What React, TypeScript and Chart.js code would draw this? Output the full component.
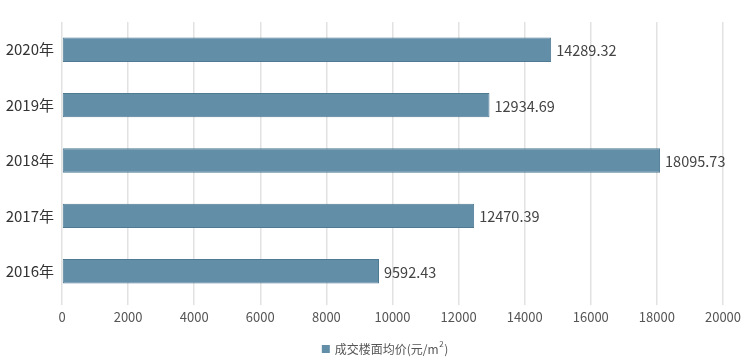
import React, { useEffect, useRef } from "react";
import { Chart, registerables } from "chart.js";

Chart.register(...registerables);

const categories = ["2020年", "2019年", "2018年", "2017年", "2016年"];
const barValues = [14800, 12934.69, 18095.73, 12470.39, 9592.43];
const labelTexts = ["14289.32", "12934.69", "18095.73", "12470.39", "9592.43"];
const seriesNameMain = "成交楼面均价(元/m";
const seriesNameSup = "2";
const seriesNameEnd = ")";
const xMin = 0;
const xMax = 20000;
const xStep = 2000;

const FONT = "'Noto Sans CJK SC', 'Noto Sans', sans-serif";
const BAR_FILL = "rgb(99,142,167)";
const BAR_BORDER = "rgb(78,122,148)";

const valueLabelPlugin = {
  id: "valueLabels",
  afterDatasetsDraw(chart: any) {
    const { ctx } = chart;
    const meta = chart.getDatasetMeta(0);
    ctx.save();
    ctx.font = `14.5px ${FONT}`;
    ctx.fillStyle = "#444444";
    ctx.textAlign = "left";
    ctx.textBaseline = "middle";
    meta.data.forEach((bar: any, i: number) => {
      ctx.fillText(labelTexts[i], bar.x + 5, bar.y + 1);
    });
    ctx.restore();
  },
};

const legendPlugin = {
  id: "customLegend",
  afterDraw(chart: any) {
    const { ctx, chartArea } = chart;
    ctx.save();
    ctx.font = `12px ${FONT}`;
    const w1 = ctx.measureText(seriesNameMain).width;
    ctx.font = `8px ${FONT}`;
    const w2 = ctx.measureText(seriesNameSup).width;
    ctx.font = `12px ${FONT}`;
    const w3 = ctx.measureText(seriesNameEnd).width;
    const box = 8;
    const gap = 5;
    const total = box + gap + w1 + w2 + w3;
    const cx = (chartArea.left + chartArea.right) / 2 - 8;
    const x0 = cx - total / 2;
    const y = 349;
    ctx.fillStyle = BAR_FILL;
    ctx.fillRect(x0, y - 4, box, box);
    ctx.fillStyle = "#555555";
    ctx.textBaseline = "middle";
    ctx.textAlign = "left";
    ctx.fillText(seriesNameMain, x0 + box + gap, y);
    ctx.font = `8px ${FONT}`;
    ctx.fillText(seriesNameSup, x0 + box + gap + w1 + 0.5, y - 5);
    ctx.font = `12px ${FONT}`;
    ctx.fillText(seriesNameEnd, x0 + box + gap + w1 + w2 + 1, y);
    ctx.restore();
  },
};

export default function App() {
  const ref = useRef<HTMLCanvasElement>(null);
  useEffect(() => {
    if (!ref.current) return;
    const chart = new Chart(ref.current, {
      type: "bar",
      data: {
        labels: categories,
        datasets: [
          {
            label: seriesNameMain,
            data: barValues,
            backgroundColor: BAR_FILL,
            borderColor: BAR_BORDER,
            borderWidth: 1,
            borderSkipped: false,
            barPercentage: 0.44,
            categoryPercentage: 1,
          },
        ],
      },
      options: {
        indexAxis: "y",
        animation: false,
        responsive: false,
        maintainAspectRatio: false,
        layout: { padding: { top: 22, right: 27, left: 0, bottom: 26 } },
        scales: {
          x: {
            min: xMin,
            max: xMax,
            ticks: {
              stepSize: xStep,
              color: "#555555",
              font: { family: FONT, size: 13 },
              padding: 4,
              callback: (v: any) => String(v),
            },
            grid: { color: "#e2e2e2", lineWidth: 1.5, drawTicks: true, tickLength: 6 },
            border: { display: false },
            afterFit(scale: any) {
              scale.height = 36;
            },
          },
          y: {
            ticks: {
              color: "#333333",
              font: { family: FONT, size: 15 },
              padding: 8,
            },
            grid: { display: false, drawTicks: false, tickLength: 0 },
            border: { display: false },
            afterFit(scale: any) {
              scale.width = 62;
            },
          },
        },
        plugins: {
          legend: { display: false },
          tooltip: { enabled: false },
        },
      },
      plugins: [valueLabelPlugin, legendPlugin],
    });
    return () => chart.destroy();
  }, []);
  return (
    <div style={{ position: "absolute", left: 0, top: 0, width: 750, height: 361, background: "#fff" }}>
      <canvas ref={ref} width={750} height={361} />
    </div>
  );
}
